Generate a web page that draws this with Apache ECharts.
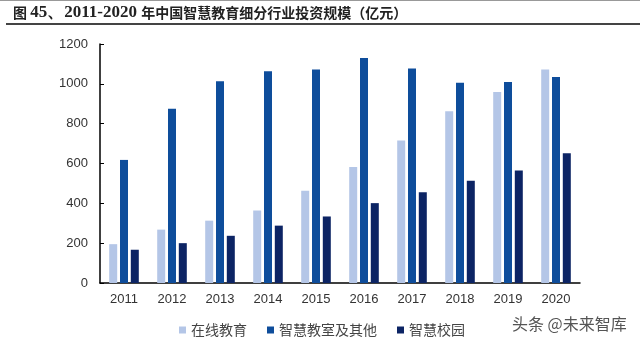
<!DOCTYPE html>
<html><head><meta charset="utf-8">
<script src="https://cdn.jsdelivr.net/npm/echarts@6/dist/echarts.min.js"></script>
<style>html,body{margin:0;padding:0;background:#fff}#c{width:640px;height:355px}</style>
</head><body><div id="c"></div>
<script>
const categories = ['2011','2012','2013','2014','2015','2016','2017','2018','2019','2020'];
const seriesNames = ['在线教育','智慧教室及其他','智慧校园'];
const online = [195, 268, 313, 364, 463, 583, 716, 862, 959, 1072];
const classroom = [618, 875, 1013, 1063, 1072, 1130, 1077, 1006, 1009, 1034];
const campus = [167, 200, 237, 288, 334, 401, 456, 514, 565, 652];
const yTicks = [0, 200, 400, 600, 800, 1000, 1200];
const titleParts = [['c','图 '],['d','45、2011-2020 '],['c','年中国智慧教育细分行业投资规模（亿元）']];
const watermark = '头条 @未来智库';

const colors = ['#b4c6e7', '#0e4d9b', '#0c2464'];
const chart = echarts.init(document.getElementById('c'), null, {renderer:'canvas'});
const seriesData = [online, classroom, campus];
chart.setOption({
  animation: false,
  color: colors,
  grid: {left: 100, right: 60, top: 44, bottom: 72, containLabel: false},
  legend: {
    data: seriesNames, left: 174, top: 318, icon: 'rect', itemWidth: 7, itemHeight: 7, itemGap: 20,
    textStyle: {fontFamily: 'Noto Sans CJK SC', fontSize: 14, color: '#444'}
  },
  xAxis: {
    type: 'category', data: categories,
    axisLine: {lineStyle: {color: '#000', width: 1.5}},
    axisTick: {show: false},
    axisLabel: {fontFamily: 'Liberation Sans', fontSize: 13, color: '#333', margin: 10}
  },
  yAxis: {
    type: 'value', min: yTicks[0], max: yTicks[yTicks.length-1], interval: 200,
    axisLine: {show: true, lineStyle: {color: '#000', width: 1.5}},
    axisTick: {show: true, inside: true, length: 4, lineStyle: {color: '#000'}},
    splitLine: {show: false},
    axisLabel: {fontFamily: 'Liberation Sans', fontSize: 13, color: '#333', margin: 12, formatter: v => String(v)}
  },
  series: seriesNames.map((n, i) => ({
    name: n, type: 'bar', data: seriesData[i], barWidth: 8, barGap: '35%'
  })),
  graphic: [
    {type: 'line', shape: {x1: 0, y1: 0.5, x2: 640, y2: 0.5}, style: {stroke: '#999', lineWidth: 1}},
    {type: 'text', left: 13, top: 4, style: {
      text: titleParts.map(p => '{' + p[0] + '|' + p[1] + '}').join(''),
      rich: {
        c: {fontFamily: 'Noto Sans CJK SC', fontWeight: 'bold', fontSize: 14, fill: '#222'},
        d: {fontFamily: 'Liberation Serif', fontWeight: 'bold', fontSize: 17, fill: '#222'}
      }
    }},
    {type: 'line', shape: {x1: 6, y1: 24, x2: 640, y2: 24}, style: {stroke: '#444', lineWidth: 2}},
    {type: 'text', left: 512, top: 316, style: {text: watermark, font: '16px "Noto Sans CJK SC"', fill: '#555'}}
  ]
});
</script></body></html>
